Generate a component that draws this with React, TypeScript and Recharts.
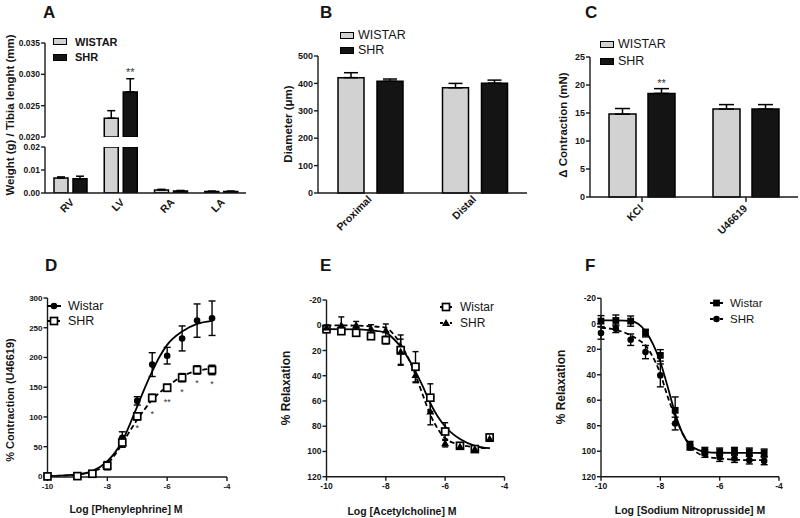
import {
  Bar, BarChart, ComposedChart, ErrorBar, LabelList, Legend, Line,
  Scatter, XAxis, YAxis,
} from 'recharts'

const FONT = '"Liberation Sans", Arial, Helvetica, sans-serif'
const INK = '#151515'
const AXIS = '#1a1a1a'
const WISTAR_FILL = '#d2d2d2'
const SHR_FILL = '#141414'

// A: chamber weight / tibia length (broken axis at 0.02)
const organs = ['RV', 'LV', 'RA', 'LA']
const organWistar = [0.0065, 0.023, 0.0013, 0.0007]
const organWistarSem = [0.0005, 0.0012, 0.0003, 0.0001]
const organShr = [0.0062, 0.0272, 0.0009, 0.0007]
const organShrSem = [0.0011, 0.0021, 0.0002, 0.0001]
const organShrSig = ['', '**', '', '']
const BREAK = 0.02

// B: artery diameter
const segments = ['Proximal', 'Distal']
const diamWistar = [421, 384]
const diamWistarSem = [18, 16]
const diamShr = [408, 401]
const diamShrSem = [8, 11]

// C: contraction
const agonists = ['KCl', 'U46619']
const contrWistar = [14.8, 15.7]
const contrWistarSem = [1.0, 0.8]
const contrShr = [18.5, 15.7]
const contrShrSem = [0.85, 0.8]
const contrShrSig = ['**', '']

// D: phenylephrine
const peDoses = [-10, -9, -8.5, -8, -7.5, -7, -6.5, -6, -5.5, -5, -4.5]
const peWistar = [0.5, 1, 5, 20, 65, 127, 188, 203, 232, 262, 266]
const peWistarSem = [1, 1, 2, 4, 10, 7, 20, 14, 21, 28, 29]
const peShr = [0, 0.5, 4.5, 18, 57, 101, 132, 149, 166, 179, 179]
const peShrSem = [1, 1, 2, 7, 8, 6, 6, 6, 7, 7, 8]
const peFitDoses = [-10, -9, -8.5, -8, -7.75, -7.5, -7.25, -7, -6.75, -6.5, -6.25, -6, -5.5, -5, -4.5]
const peWistarFit = [0.5, 3.4, 8.9, 25.7, 39.6, 59.2, 87.2, 117.9, 148.6, 176.5, 201.7, 221.2, 243.6, 256.4, 261.5]
const peShrFit = [0.5, 3, 8, 21, 36, 55, 76, 95.5, 113, 129, 141, 151, 168, 177.5, 181]
const peStarDoses = [-7, -6.5, -6, -5.5, -5, -4.5]
const peStarLevel = [84, 109, 129, 146, 161, 159]
const peStarMarks = ['*', '*', '**', '*', '*', '*']

// E: acetylcholine
const achDoses = [-10, -9.5, -9, -8.5, -8, -7.5, -7, -6.5, -6, -5.5, -5, -4.5]
const achWistar = [3.2, 4.7, 6, 8.7, 11.8, 19.7, 32.9, 57.4, 84.2, 95.5, 98.1, 88.9]
const achWistarSem = [2, 2, 2, 2, 3, 12, 12, 11, 7, 2, 2, 2]
const achShr = [1.8, 0, 0, 2.6, 4, 21, 39.5, 68.4, 93.4, 96, 98, 90]
const achShrSem = [2, 6.6, 3, 3, 5, 10, 6, 10.5, 3, 2, 2, 2]
const achFitDoses = [-10, -9, -8.5, -8, -7.75, -7.5, -7.25, -7, -6.75, -6.5, -6.25, -6, -5.5, -5, -4.5]
const achWistarFit = [3, 3.2, 4, 5.8, 10.5, 17.1, 26, 36.8, 48.7, 61.8, 72.3, 80.2, 90.2, 95.5, 97.4]
const achShrFit = [0, 0.3, 0.8, 2, 6.8, 15, 25.8, 39.5, 55.5, 71, 82, 89.5, 94.7, 96.6, 97.5]

// F: sodium nitroprusside
const snpDoses = [-10, -9.5, -9, -8.5, -8, -7.5, -7, -6.5, -6, -5.5, -5, -4.5]
const snpWistar = [-2.1, -2.6, -2.1, 7.3, 24.8, 67.9, 95.3, 100, 100.5, 100, 100.5, 101.3]
const snpWistarSem = [4.3, 4.3, 4, 3, 4.5, 10.5, 3, 3, 3, 3, 3, 3]
const snpShr = [7.3, 3.9, 12.5, 22.2, 40.5, 78.3, 97.1, 101.8, 105, 105.8, 107, 107.6]
const snpShrSem = [4.8, 3, 4.5, 5.2, 9, 5, 2, 3, 3, 3, 3, 3]
const snpFitDoses = [-10, -9.5, -9, -8.75, -8.5, -8.25, -8, -7.75, -7.5, -7.25, -7, -6.75, -6.5, -6, -5, -4.5]
const snpWistarFit = [-2.7, -2.6, -2.2, 0, 5.8, 15.7, 30, 49.6, 70.5, 86.1, 95.3, 98.7, 100.5, 101.2, 101.3, 101.4]
const snpShrFit = [3.1, 4.7, 9.1, 12.5, 17, 26.1, 39.1, 57.4, 73, 86.1, 95.3, 101.3, 103.9, 105.7, 107, 107]

const logTicks = [-10, -8, -6, -4]
const relaxTicks = [-20, 0, 20, 40, 60, 80, 100, 120]

const axisStroke = { stroke: AXIS, strokeWidth: 1.4 }
const tickStyle = (size: number) => ({ fontSize: size, fontWeight: 700, fill: INK, fontFamily: FONT })

function barRows(cats: string[], w: number[], we: number[], s: number[], se: number[], sig?: string[]) {
  return cats.map((cat, i) => ({
    cat, wistar: w[i], wistarErr: [0, we[i]], shr: s[i], shrErr: [0, se[i]], sig: sig ? sig[i] : '',
  }))
}

const organRows = barRows(organs, organWistar, organWistarSem, organShr, organShrSem, organShrSig)
const organTop = organRows.map((r) => ({
  ...r,
  wistar: r.wistar > BREAK ? r.wistar : null,
  wistarErr: r.wistar > BREAK ? r.wistarErr : null,
  shr: r.shr > BREAK ? r.shr : null,
  shrErr: r.shr > BREAK ? r.shrErr : null,
}))
const organBottom = organRows.map((r) => ({
  ...r,
  wistar: Math.min(r.wistar, BREAK),
  wistarErr: r.wistar > BREAK ? null : r.wistarErr,
  shr: Math.min(r.shr, BREAK),
  shrErr: r.shr > BREAK ? null : r.shrErr,
  sig: '',
}))
const diamRows = barRows(segments, diamWistar, diamWistarSem, diamShr, diamShrSem)
const contrRows = barRows(agonists, contrWistar, contrWistarSem, contrShr, contrShrSem, contrShrSig)

const slantTick = (dx: number, dy: number, size: number) => (props: any) => {
  const { x, y, payload } = props
  const tx = x + dx
  const ty = y + dy
  return (
    <text x={tx} y={ty} transform={`rotate(-45 ${tx} ${ty})`} textAnchor="end"
      fontSize={size} fontWeight={700} fontFamily={FONT} fill={INK}>
      {payload.value}
    </text>
  )
}

const sigLabel = (lift: number) => (props: any) => {
  const { x, y, width, value } = props
  if (!value) return null
  return (
    <text x={x + width / 2} y={y - lift} textAnchor="middle" fontSize={11} fill="#333" fontFamily={FONT}>
      {value}
    </text>
  )
}

function pairBars(cap: number, sig?: (p: any) => any) {
  return [
    <Bar key="w" dataKey="wistar" fill={WISTAR_FILL} stroke="#000" strokeWidth={1.5} isAnimationActive={false}>
      <ErrorBar dataKey="wistarErr" width={cap} stroke="#000" strokeWidth={1.5} direction="y" />
    </Bar>,
    <Bar key="s" dataKey="shr" fill={SHR_FILL} stroke="#000" strokeWidth={1.5} isAnimationActive={false}>
      <ErrorBar dataKey="shrErr" width={cap} stroke="#000" strokeWidth={1.5} direction="y" />
      {sig && <LabelList dataKey="sig" content={sig} />}
    </Bar>,
  ]
}

function BarKey({ bold, size, row, gap }: { bold?: boolean; size: number; row: number; gap: number }) {
  const rows: [string, string][] = [['WISTAR', WISTAR_FILL], ['SHR', SHR_FILL]]
  return (
    <div style={{ fontFamily: FONT, fontSize: size, fontWeight: bold ? 700 : 400, color: INK }}>
      {rows.map(([label, fill]) => (
        <div key={label} style={{ display: 'flex', alignItems: 'center', height: row }}>
          <span style={{ width: 12, height: 5, background: fill, border: '1.6px solid #000', marginRight: gap }} />
          <span>{label}</span>
        </div>
      ))}
    </div>
  )
}

type Kind = 'dot' | 'square' | 'open' | 'triangle'

function Marker({ kind, cx, cy }: { kind: Kind; cx: number; cy: number }) {
  if (kind === 'dot') return <circle cx={cx} cy={cy} r={3.3} fill="#000" />
  if (kind === 'square') return <rect x={cx - 3.4} y={cy - 3.4} width={6.8} height={6.8} fill="#000" />
  if (kind === 'open') {
    return <rect x={cx - 3.5} y={cy - 3.5} width={7} height={7} fill="#fff" stroke="#000" strokeWidth={1.7} />
  }
  return <path d={`M${cx} ${cy - 4}L${cx + 4} ${cy + 3}L${cx - 4} ${cy + 3}Z`} fill="#000" />
}

interface Curve {
  name: string
  kind: Kind
  dashed: boolean
  doses: number[]
  mean: number[]
  sem: number[]
  fitX: number[]
  fitY: number[]
}

interface KeyPos { left: number; top: number; size: number; row: number; icon: number; gap: number }

function CurveKey({ curves, pos }: { curves: Curve[]; pos: KeyPos }) {
  return (
    <div style={{ fontFamily: FONT, fontSize: pos.size, color: INK }}>
      {curves.map((c) => (
        <div key={c.name} style={{ display: 'flex', alignItems: 'center', height: pos.row }}>
          <svg width={pos.icon} height={10} style={{ marginRight: pos.gap, overflow: 'visible' }}>
            <line x1={0} x2={pos.icon} y1={5} y2={5} stroke="#000" strokeWidth={2}
              strokeDasharray={c.dashed ? '3 2' : undefined} />
            <Marker kind={c.kind} cx={pos.icon / 2} cy={5} />
          </svg>
          <span>{c.name}</span>
        </div>
      ))}
    </div>
  )
}

interface PanelProps {
  left: number
  top: number
  width: number
  height: number
  mTop: number
  mRight: number
  yGap: number
  yWidth: number
  xGap: number
  xHeight: number
  yDomain: [number, number]
  yTicks: number[]
  reversed?: boolean
  tickSize: number
  cap: number
  curves: Curve[]
  stars?: { doses: number[]; level: number[]; marks: string[] }
  key_: KeyPos
}

function CurvePanel(p: PanelProps) {
  const starRows = p.stars
    ? p.stars.doses.map((x, i) => ({ x, y: p.stars!.level[i], mark: p.stars!.marks[i] }))
    : []
  return (
    <div style={{ position: 'absolute', left: p.left, top: p.top }}>
      <ComposedChart width={p.width} height={p.height}
        margin={{ top: p.mTop, right: p.mRight, bottom: 0, left: 0 }}>
        <XAxis xAxisId="gap" type="number" domain={[0, 1]} height={p.xGap}
          axisLine={false} tickLine={false} tick={false} />
        <XAxis dataKey="x" type="number" domain={[-10, -4]} ticks={logTicks} interval={0}
          height={p.xHeight} tickSize={4} tickMargin={2}
          axisLine={axisStroke} tickLine={axisStroke} tick={tickStyle(p.tickSize)} />
        <YAxis yAxisId="gap" type="number" domain={[0, 1]} width={p.yGap}
          axisLine={false} tickLine={false} tick={false} />
        <YAxis dataKey="y" type="number" domain={p.yDomain} ticks={p.yTicks} interval={0}
          reversed={p.reversed} width={p.yWidth} tickSize={4} tickMargin={1}
          axisLine={axisStroke} tickLine={axisStroke} tick={tickStyle(p.tickSize)} />
        {p.curves.map((c) => (
          <Line key={'fit-' + c.name} data={c.fitX.map((x, i) => ({ x, y: c.fitY[i] }))}
            dataKey="y" type="monotone" dot={false} activeDot={false} legendType="none"
            stroke="#000" strokeWidth={1.8} strokeDasharray={c.dashed ? '5 3' : undefined}
            isAnimationActive={false} />
        ))}
        {p.curves.map((c) => (
          <Scatter key={'pts-' + c.name} data={c.doses.map((x, i) => ({ x, y: c.mean[i], e: c.sem[i] }))}
            dataKey="y" legendType="none" isAnimationActive={false}
            shape={(s: any) => <Marker kind={c.kind} cx={s.cx} cy={s.cy} />}>
            <ErrorBar dataKey="e" direction="y" width={p.cap} stroke="#000" strokeWidth={1.4} />
          </Scatter>
        ))}
        {p.stars && (
          <Scatter data={starRows} dataKey="y" legendType="none" isAnimationActive={false}
            shape={(s: any) => (
              <text x={s.cx} y={s.cy + 5} textAnchor="middle" fontSize={9} fill="#333" fontFamily={FONT}>
                {s.payload.mark}
              </text>
            )} />
        )}
        <Legend verticalAlign="middle" align="center"
          wrapperStyle={{ left: p.key_.left, top: p.key_.top, width: 'auto' }}
          content={() => <CurveKey curves={p.curves} pos={p.key_} />} />
      </ComposedChart>
    </div>
  )
}

const peCurves: Curve[] = [
  { name: 'Wistar', kind: 'dot', dashed: false, doses: peDoses, mean: peWistar, sem: peWistarSem,
    fitX: peFitDoses, fitY: peWistarFit },
  { name: 'SHR', kind: 'open', dashed: true, doses: peDoses, mean: peShr, sem: peShrSem,
    fitX: peFitDoses, fitY: peShrFit },
]
const achCurves: Curve[] = [
  { name: 'Wistar', kind: 'open', dashed: false, doses: achDoses, mean: achWistar, sem: achWistarSem,
    fitX: achFitDoses, fitY: achWistarFit },
  { name: 'SHR', kind: 'triangle', dashed: true, doses: achDoses, mean: achShr, sem: achShrSem,
    fitX: achFitDoses, fitY: achShrFit },
]
const snpCurves: Curve[] = [
  { name: 'Wistar', kind: 'square', dashed: false, doses: snpDoses, mean: snpWistar, sem: snpWistarSem,
    fitX: snpFitDoses, fitY: snpWistarFit },
  { name: 'SHR', kind: 'dot', dashed: true, doses: snpDoses, mean: snpShr, sem: snpShrSem,
    fitX: snpFitDoses, fitY: snpShrFit },
]

const title = { fontFamily: FONT, fontWeight: 700, fill: INK } as const

export default function App() {
  return (
    <div style={{ position: 'absolute', left: 0, top: 0, width: 800, height: 518, background: '#fff', overflow: 'hidden' }}>
      {/* A, upper segment */}
      <div style={{ position: 'absolute', left: 0, top: 0 }}>
        <BarChart width={250} height={146} data={organTop} barSize={14} barGap={5}
          margin={{ top: 43, right: 4, bottom: 9, left: 0 }}>
          <XAxis dataKey="cat" hide />
          <YAxis width={45} domain={[BREAK, 0.035]} ticks={[0.02, 0.025, 0.03, 0.035]} interval={0}
            allowDataOverflow tickFormatter={(v: number) => v.toFixed(3)} tickSize={4} tickMargin={1}
            axisLine={axisStroke} tickLine={axisStroke} tick={tickStyle(8.5)} />
          {pairBars(4, sigLabel(15.5))}
          <Legend verticalAlign="middle" align="center"
            wrapperStyle={{ left: 53, top: 34, width: 'auto' }}
            content={() => <BarKey bold size={11} row={15.5} gap={8} />} />
        </BarChart>
      </div>
      {/* A, lower segment */}
      <div style={{ position: 'absolute', left: 0, top: 140 }}>
        <BarChart width={250} height={120} data={organBottom} barSize={14} barGap={5}
          margin={{ top: 7, right: 4, bottom: 27, left: 0 }}>
          <XAxis dataKey="cat" height={40} interval={0} tickSize={5} tickMargin={0} tickLine={false}
            axisLine={axisStroke} tick={slantTick(4.5, 5, 10.5)} />
          <YAxis width={45} domain={[0, BREAK]} ticks={[0, 0.01, 0.02]} interval={0} allowDataOverflow
            tickFormatter={(v: number) => v.toFixed(2)} tickSize={4} tickMargin={1}
            axisLine={axisStroke} tickLine={axisStroke} tick={tickStyle(8.5)} />
          {pairBars(4)}
        </BarChart>
      </div>
      {/* B */}
      <div style={{ position: 'absolute', left: 270, top: 0 }}>
        <BarChart width={265} height={260} data={diamRows} barSize={26} barGap={13}
          margin={{ top: 56, right: 8, bottom: 17, left: 0 }}>
          <XAxis dataKey="cat" height={50} interval={0} tickSize={5} tickMargin={0} tickLine={false}
            axisLine={axisStroke} tick={slantTick(2, 2, 10.5)} />
          <YAxis width={48} domain={[0, 500]} ticks={[0, 100, 200, 300, 400, 500]} interval={0}
            tickSize={4} tickMargin={1} axisLine={axisStroke} tickLine={axisStroke} tick={tickStyle(9)} />
          {pairBars(7)}
          <Legend verticalAlign="middle" align="center"
            wrapperStyle={{ left: 70, top: 27.5, width: 'auto' }}
            content={() => <BarKey size={12.5} row={15} gap={4} />} />
        </BarChart>
      </div>
      {/* C */}
      <div style={{ position: 'absolute', left: 530, top: 0 }}>
        <BarChart width={270} height={260} data={contrRows} barSize={27} barGap={12}
          margin={{ top: 57, right: 2, bottom: 18, left: 0 }}>
          <XAxis dataKey="cat" height={45} interval={0} tickSize={5} tickMargin={0}
            axisLine={axisStroke} tickLine={axisStroke} tick={slantTick(2, 7, 10.5)} />
          <YAxis width={60} domain={[0, 25]} ticks={[0, 5, 10, 15, 20, 25]} interval={0}
            tickSize={4} tickMargin={1} axisLine={axisStroke} tickLine={axisStroke} tick={tickStyle(9)} />
          {pairBars(7.5, sigLabel(6))}
          <Legend verticalAlign="middle" align="center"
            wrapperStyle={{ left: 70, top: 35.5, width: 'auto' }}
            content={() => <BarKey size={12.5} row={17} gap={4} />} />
        </BarChart>
      </div>
      {/* D */}
      <CurvePanel left={0} top={260} width={240} height={258} mTop={38} mRight={13}
        yGap={3.5} yWidth={44} xGap={12} xHeight={29} yDomain={[0, 300]}
        yTicks={[0, 50, 100, 150, 200, 250, 300]} tickSize={8} cap={3.5} curves={peCurves}
        stars={{ doses: peStarDoses, level: peStarLevel, marks: peStarMarks }}
        key_={{ left: 47, top: 38.75, size: 12.5, row: 14.5, icon: 14, gap: 7 }} />
      {/* E */}
      <CurvePanel left={270} top={260} width={250} height={258} mTop={40} mRight={15.5}
        yGap={12.5} yWidth={44} xGap={13} xHeight={28.3} yDomain={[-20, 120]} reversed
        yTicks={relaxTicks} tickSize={8.5} cap={3} curves={achCurves}
        key_={{ left: 170, top: 39, size: 12, row: 16, icon: 12, gap: 8 }} />
      {/* F */}
      <CurvePanel left={530} top={260} width={265} height={258} mTop={38.3} mRight={16}
        yGap={13} yWidth={58} xGap={11} xHeight={30.3} yDomain={[-20, 120]} reversed
        yTicks={relaxTicks} tickSize={8.5} cap={3.5} curves={snpCurves}
        key_={{ left: 180, top: 35, size: 11.5, row: 16, icon: 13, gap: 7 }} />

      <svg width={800} height={518} style={{ position: 'absolute', left: 0, top: 0, pointerEvents: 'none' }}>
        <g {...title} fontSize={17}>
          <text x={43} y={18}>A</text>
          <text x={320} y={18}>B</text>
          <text x={585} y={18}>C</text>
          <text x={45} y={271}>D</text>
          <text x={320} y={271}>E</text>
          <text x={585} y={271}>F</text>
        </g>
        <g {...title} textAnchor="middle" dominantBaseline="central">
          <text fontSize={11.5} transform="translate(10 115) rotate(-90)">Weight (g) / Tibia lenght (mm)</text>
          <text fontSize={11.5} transform="translate(288 124) rotate(-90)">Diameter (μm)</text>
          <text fontSize={11.5} transform="translate(563 125) rotate(-90)">Δ Contraction (mN)</text>
          <text fontSize={11} transform="translate(10 400) rotate(-90)">% Contraction (U46619)</text>
          <text fontSize={12} transform="translate(286 388) rotate(-90)">% Relaxation</text>
          <text fontSize={12} transform="translate(561 387) rotate(-90)">% Relaxation</text>
          <text fontSize={10.5} x={126} y={509}>Log [Phenylephrine] M</text>
          <text fontSize={10.5} x={402} y={511}>Log [Acetylcholine] M</text>
          <text fontSize={10.5} x={690} y={510}>Log [Sodium Nitroprusside] M</text>
        </g>
      </svg>
    </div>
  )
}
